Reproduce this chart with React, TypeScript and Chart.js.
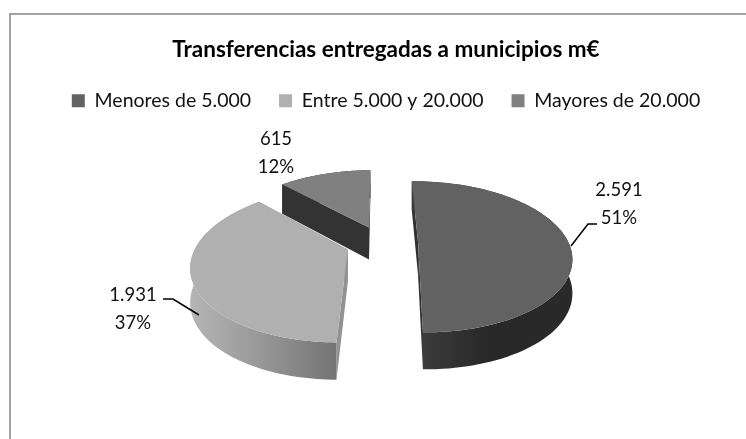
import React, { useEffect, useRef } from "react";
import { Chart, registerables } from "chart.js";

Chart.register(...registerables);

const titleText = "Transferencias entregadas a municipios m€";
const categories = ["Menores de 5.000", "Entre 5.000 y 20.000", "Mayores de 20.000"];
const values = [2591, 1931, 615];
const valueLabels = ["2.591", "1.931", "615"];
const percentLabels = ["51%", "37%", "12%"];

const topColors = ["#626262", "#b0b0b0", "#808080"];
const cutColors = ["#303030", "#929292", "#333333"];
const wallStops = [
  ["#3c3c3c", "#282828", "#2a2a2a"],
  ["#b4b4b4", "#999999", "#747474"],
  ["#333333", "#333333", "#333333"],
];
const wallRange = [[421, 573], [192, 336], [283, 371]];
const labelPos = [[619, 190], [133, 295], [276, 139]];
const leaders = [
  [[571, 246], [588, 224], [597, 224]],
  [[199, 315], [173, 299], [163, 299]],
];
const drawOrder = [2, 1, 0];

// perspective of the pie plane
const P = { cx: 382, cy: 243, F: 150.6, G: 73, k: 0.184, D: 33, dD: 4, shear: -1.5 };
const project = (X: number, Y: number, drop = false) => {
  const w = 1 - P.k * Y;
  return [
    P.cx + (X * P.F) / w + P.shear * Y,
    P.cy + (Y * P.G) / w + (drop ? P.D + P.dD * Y : 0),
  ];
};

const pie3d = {
  id: "pie3d",
  beforeDraw(chart: any) {
    const c = chart.ctx;
    c.save();
    c.fillStyle = "#fff";
    c.fillRect(0, 0, 746, 439);
    c.strokeStyle = "#a3a3a3";
    c.lineWidth = 2;
    c.beginPath();
    c.moveTo(10, 439);
    c.lineTo(10, 14);
    c.lineTo(746, 14);
    c.stroke();
    c.restore();
  },
  beforeDatasetDraw() {
    return false;
  },
  afterDatasetsDraw(chart: any) {
    const c = chart.ctx;
    const arcs = chart.getDatasetMeta(0).data;
    c.save();
    for (const i of drawOrder) {
      const a = arcs[i];
      const mid = (a.startAngle + a.endAngle) / 2;
      const e = a.options.offset / a.outerRadius;
      const ox = e * Math.cos(mid);
      const oy = e * Math.sin(mid);
      const pts: number[][] = [];
      const steps = 90;
      for (let s = 0; s <= steps; s++) {
        const t = a.startAngle + ((a.endAngle - a.startAngle) * s) / steps;
        pts.push([ox + Math.cos(t), oy + Math.sin(t)]);
      }
      const poly = (list: number[][]) => {
        c.beginPath();
        list.forEach((p, n) => (n ? c.lineTo(p[0], p[1]) : c.moveTo(p[0], p[1])));
        c.closePath();
      };
      const tip = [ox, oy];
      c.fillStyle = cutColors[i];
      for (const end of [pts[0], pts[steps]]) {
        poly([
          project(tip[0], tip[1]),
          project(end[0], end[1]),
          project(end[0], end[1], true),
          project(tip[0], tip[1], true),
        ]);
        c.fill();
      }
      const g = c.createLinearGradient(wallRange[i][0], 0, wallRange[i][1], 0);
      g.addColorStop(0, wallStops[i][0]);
      g.addColorStop(0.45, wallStops[i][1]);
      g.addColorStop(1, wallStops[i][2]);
      c.fillStyle = g;
      poly([
        ...pts.map((p) => project(p[0], p[1])),
        ...pts.slice().reverse().map((p) => project(p[0], p[1], true)),
      ]);
      c.fill();
      c.fillStyle = topColors[i];
      poly([project(tip[0], tip[1]), ...pts.map((p) => project(p[0], p[1]))]);
      c.fill();
    }
    c.strokeStyle = "#000";
    c.lineWidth = 1.5;
    for (const l of leaders) {
      c.beginPath();
      l.forEach((p, n) => (n ? c.lineTo(p[0], p[1]) : c.moveTo(p[0], p[1])));
      c.stroke();
    }
    c.fillStyle = "#111";
    c.font = "18.5px Lato";
    c.textAlign = "center";
    c.textBaseline = "middle";
    labelPos.forEach((p, i) => {
      c.fillText(valueLabels[i], p[0], p[1]);
      c.fillText(percentLabels[i], p[0], p[1] + 28);
    });
    c.restore();
  },
};

export default function App() {
  const ref = useRef<HTMLCanvasElement>(null);
  useEffect(() => {
    const chart = new Chart(ref.current as HTMLCanvasElement, {
      type: "pie",
      data: {
        labels: categories,
        datasets: [
          {
            data: values,
            backgroundColor: topColors,
            borderWidth: 0,
            offset: 24,
            radius: 100,
          } as any,
        ],
      },
      options: {
        responsive: false,
        animation: false,
        rotation: -1,
        layout: { padding: { top: 36, left: 26, right: 0, bottom: 10 } },
        plugins: {
          tooltip: { enabled: false },
          title: {
            display: true,
            text: titleText,
            color: "#000",
            font: { family: "Lato", size: 22.5, weight: "bold" },
            padding: { top: 0, bottom: 0 },
          },
          legend: {
            display: true,
            position: "top",
            labels: {
              color: "#111",
              font: { family: "Lato", size: 19.5 },
              boxWidth: 13,
              boxHeight: 13,
              padding: 28,
            },
          },
        },
      },
      plugins: [pie3d],
    } as any);
    return () => chart.destroy();
  }, []);
  return (
    <div style={{ position: "absolute", left: 0, top: 0, width: 746, height: 439 }}>
      <canvas ref={ref} width={746} height={439} style={{ display: "block" }} />
    </div>
  );
}
